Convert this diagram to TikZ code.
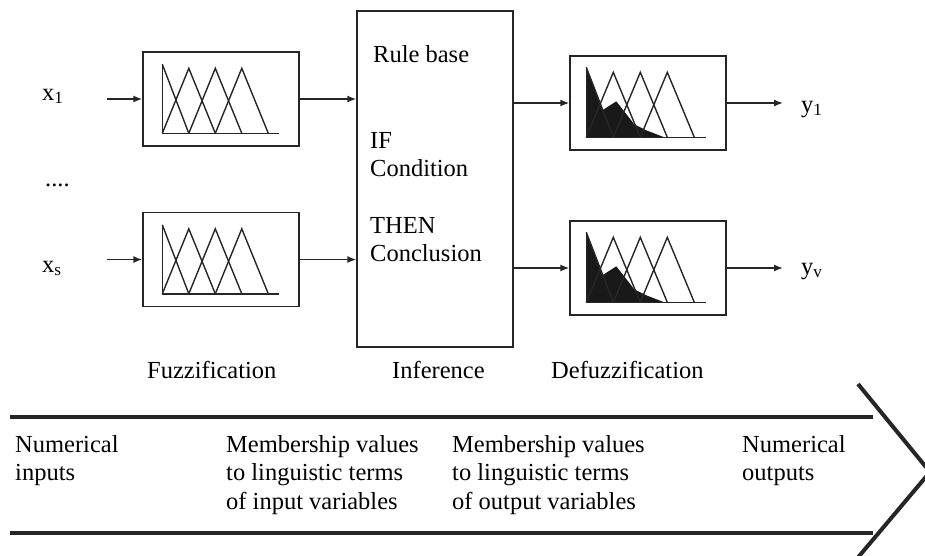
\documentclass[tikz,border=0pt]{standalone}
\usepackage{fontspec}
\setmainfont{Liberation Serif}
\usetikzlibrary{arrows.meta,positioning}

\begin{document}
\begin{tikzpicture}[x=1pt, y=-1pt,
    every node/.style={font=\fontsize{24.5}{28.5}\selectfont, inner sep=0pt},
    block/.style={rectangle, draw=black!85, line width=1.4pt, minimum width=156pt, minimum height=94pt},
    infbox/.style={block, minimum height=336pt},
    mf/.style={line width=1.4pt, black!85, line join=miter},
    flow/.style={-{Latex[length=9pt, width=7pt]}, line width=1.4pt, black!85},
    band/.style={line width=4pt, black!85, line join=miter},
    txt/.style={anchor=base west},
    multi/.style={anchor=north west, align=left}
]
\useasboundingbox (0,0) rectangle (925,555);
\clip (0,0) rectangle (925,555);

% Blocks
\node[block] (fuzz1) at (221,99) {};
\node[block] (fuzz2) at (221,259.5) {};
\node[infbox] (infer) at (435,179) {};
\node[block] (defuzz1) at (648,103) {};
\node[block] (defuzz2) at (648,268) {};

% Membership functions (input)
\foreach \b in {fuzz1,fuzz2} {
  \begin{scope}[shift={(\b.north west)}]
    \draw[mf] (20,13) -- (20,82) -- (137,82);
    \draw[mf] (20,13) -- (46.5,82);
    \foreach \k in {1,2,3}
      \draw[mf] ({20+26.5*(\k-1)},82) -- ({20+26.5*\k},17) -- ({20+26.5*(\k+1)},82);
  \end{scope}
}

% Membership functions (output)
\foreach \b in {defuzz1,defuzz2} {
  \begin{scope}[shift={(\b.north west)}]
    \fill[black!90] (17,82) -- (17,12) -- (33,55) -- (47,46) -- (65,69) -- (77,75) -- (95,82) -- cycle;
    \draw[mf] (17,12) -- (17,82) -- (137,82);
    \draw[mf] (17,12) -- (44,82);
    \foreach \k in {1,2,3}
      \draw[mf] ({17+27*(\k-1)},82) -- ({17+27*\k},17) -- ({17+27*(\k+1)},82);
  \end{scope}
}

% Inputs
\node[txt] (x1) at (42,100) {x\textsubscript{1}};
\node[txt] (dots) at (45,186) {....};
\node[txt] (xs) at (42,272) {x\textsubscript{s}};
\coordinate (in1) at (107,99);
\coordinate (in2) at (107,259.5);
\draw[flow] (in1) -- (fuzz1.west);
\draw[flow] (in2) -- (fuzz2.west);

% Fuzzification -> inference -> defuzzification
\draw[flow] (fuzz1.east) -- (fuzz1.east -| infer.west);
\draw[flow] (fuzz2.east) -- (fuzz2.east -| infer.west);
\draw[flow] (defuzz1.west -| infer.east) -- (defuzz1.west);
\draw[flow] (defuzz2.west -| infer.east) -- (defuzz2.west);

% Outputs
\coordinate (out1) at (783,103);
\coordinate (out2) at (783,268);
\draw[flow] (defuzz1.east) -- (out1);
\draw[flow] (defuzz2.east) -- (out2);
\node[txt] (y1) at (801,112) {y\textsubscript{1}};
\node[txt] (yv) at (801,274) {y\textsubscript{v}};

% Rule base
\node[txt] (rules) at (373,62) {Rule base};
\node[multi] (cond) at (370,132) {IF\\Condition};
\node[multi] (concl) at (370,217) {THEN\\Conclusion};

% Stage labels
\node[txt] (fuzzlbl) at (147,378) {Fuzzification};
\node[txt] (inflbl) at (392,378) {Inference};
\node[txt] (defuzzlbl) at (551,378) {Defuzzification};

% Process arrow
\draw[band] (10,417) -- (873,417);
\draw[band] (10,533) -- (873,533);
\draw[band] (858,384) -- (930,472) -- (855,561);

\node[multi] (numin) at (15,435) {Numerical\\inputs};
\node[multi] (membin) at (226,435) {Membership values\\to linguistic terms\\of input variables};
\node[multi] (membout) at (452,435) {Membership values\\to linguistic terms\\of output variables};
\node[multi] (numout) at (742,435) {Numerical\\outputs};

\end{tikzpicture}
\end{document}
